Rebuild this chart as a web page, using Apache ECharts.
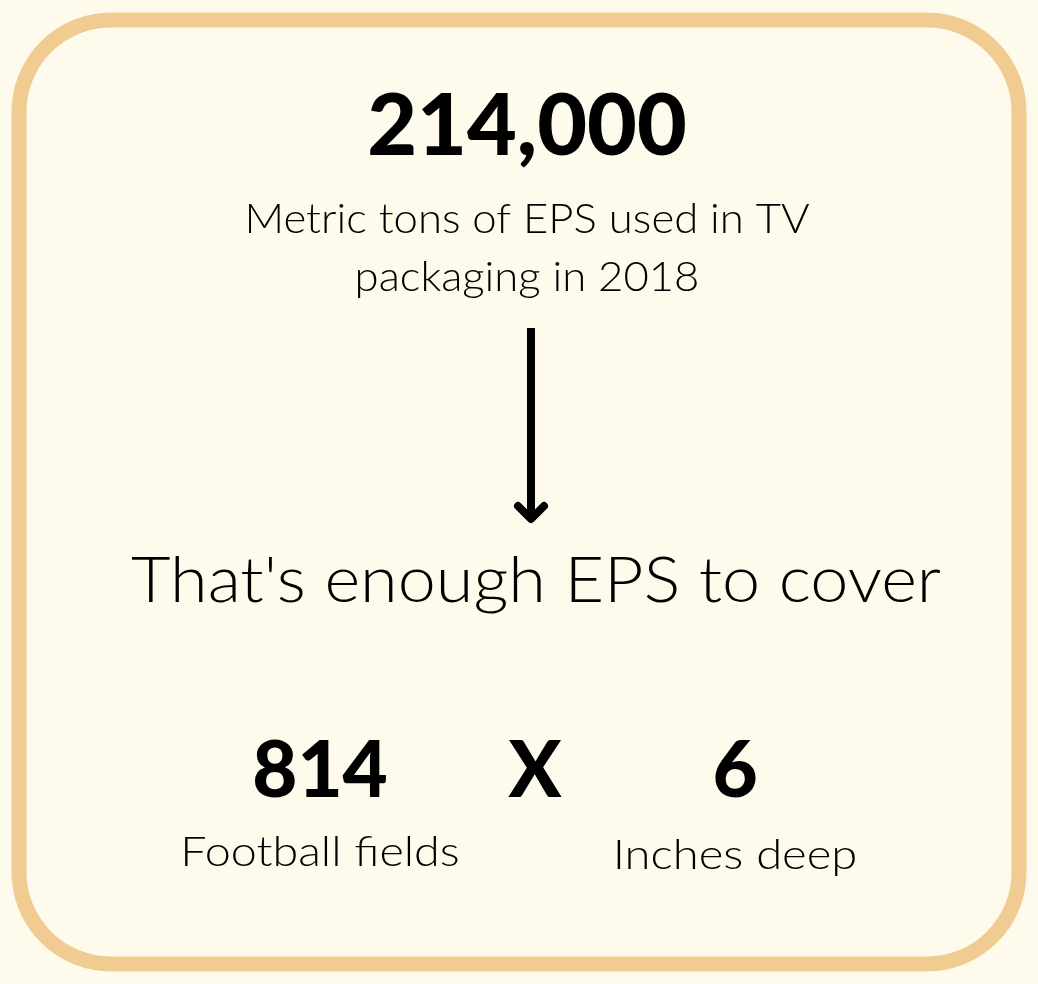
<!DOCTYPE html>
<html>
<head>
<meta charset="utf-8">
<script src="https://cdn.jsdelivr.net/npm/echarts@6/dist/echarts.min.js"></script>
<style>
html,body{margin:0;padding:0;background:#fefaec;}
#chart{width:1038px;height:984px;}
</style>
</head>
<body>
<div id="chart"></div>
<script>
// Data
var headlineValue = [214000];
var headlineLabel = ['Metric tons of EPS used in TV', 'packaging in 2018'];
var bridgeText = ["That's enough EPS to cover"];
var factorValues = [814, 6];
var factorLabels = ['Football fields', 'Inches deep'];
var operatorText = ['X'];

var chart = echarts.init(document.getElementById('chart'));
var light = 'Lato';
var heavy = 'Lato';

function txt(x, y, s, size, weight, sx) {
  return {
    type: 'text', x: x, y: y, scaleX: sx || 1,
    style: {
      text: s, fill: '#000', fontFamily: weight >= 700 ? heavy : light,
      fontSize: size, fontWeight: weight, textAlign: 'center', textVerticalAlign: 'middle'
    }
  };
}

var elements = [
  {
    type: 'rect',
    shape: { x: 19, y: 20, width: 1000, height: 944, r: 92 },
    style: { fill: '#fefaec', stroke: '#f1cc92', lineWidth: 15 }
  },
  txt(527, 127, headlineValue[0].toLocaleString('en-US'), 86, 900),
  txt(527, 220, headlineLabel[0], 41, 300, 1.065),
  txt(527, 278, headlineLabel[1], 41, 300, 1.065),
  {
    type: 'line',
    shape: { x1: 531, y1: 328, x2: 531, y2: 518 },
    style: { stroke: '#000', lineWidth: 8 }
  },
  {
    type: 'polyline',
    shape: { points: [[518, 506], [531, 519], [544, 506]] },
    style: { stroke: '#000', lineWidth: 8, lineCap: 'round', lineJoin: 'round', fill: null }
  },
  txt(536, 582, bridgeText[0], 63, 300, 1.085),
  txt(320, 772, String(factorValues[0]), 78, 900),
  txt(535, 772, operatorText[0], 78, 900),
  txt(735, 772, String(factorValues[1]), 78, 900),
  txt(320, 853, factorLabels[0], 41, 300, 1.14),
  txt(735, 856, factorLabels[1], 41, 300, 1.15)
];

chart.setOption({
  backgroundColor: '#fefaec',
  graphic: { elements: elements }
});
</script>
</body>
</html>
